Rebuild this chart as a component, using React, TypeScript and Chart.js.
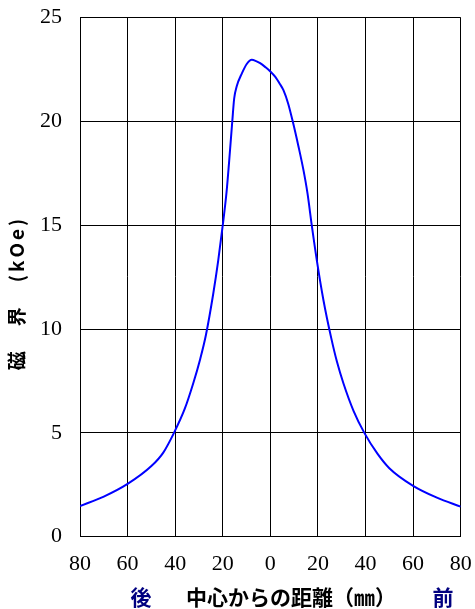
import React, { useEffect, useRef } from "react";
import { Chart, registerables } from "chart.js";

Chart.register(...registerables);

const positions = [-80, -70, -60, -50, -45, -40.5, -36, -32.4, -29.5, -27.1, -24, -21.9, -20, -18.4, -17.3, -16, -15.2, -14.1, -12, -10, -7.8, -6, -4.3, -2, 0, 2, 4, 5.5, 7.5, 9.4, 11.8, 13.9, 15.6, 17.4, 19.5, 22.3, 25.6, 28, 30.7, 35, 39.5, 45, 50, 60, 70, 80];
const field = [1.48, 1.93, 2.54, 3.4, 4.05, 5.0, 6.15, 7.39, 8.55, 9.7, 11.7, 13.3, 15.0, 16.6, 18.1, 20.0, 21.1, 21.7, 22.3, 22.75, 22.96, 22.9, 22.8, 22.6, 22.4, 22.15, 21.8, 21.5, 20.85, 20.0, 18.8, 17.66, 16.54, 15.0, 13.33, 11.4, 9.56, 8.42, 7.39, 6.05, 5.0, 4.0, 3.3, 2.45, 1.88, 1.45];

const xTicks = [-80, -60, -40, -20, 0, 20, 40, 60, 80];
const yTicks = [0, 5, 10, 15, 20, 25];

const yTitle = "磁　界　(kOe)";
const xTitleLeft = "後";
const xTitleMid = "中心からの距離（㎜）";
const xTitleRight = "前";

const titlesPlugin = {
  id: "titles",
  afterDraw(chart: any) {
    const ctx = chart.ctx;
    const h = chart.height;
    ctx.save();
    ctx.textBaseline = "middle";
    ctx.textAlign = "center";
    ctx.font = "bold 21px 'Noto Sans CJK JP'";
    const y = h - 12;
    ctx.fillStyle = "#000080";
    ctx.fillText(xTitleLeft, 141, y);
    ctx.fillText(xTitleRight, 443, y);
    ctx.fillStyle = "#000000";
    ctx.fillText(xTitleMid, 291, y);
    ctx.restore();

    ctx.save();
    ctx.translate(17, 293);
    ctx.rotate(-Math.PI / 2);
    ctx.textBaseline = "middle";
    ctx.textAlign = "center";
    ctx.fillStyle = "#000";
    ctx.font = "bold 19px 'Noto Sans CJK JP'";
    try {
      (ctx as any).letterSpacing = "3px";
    } catch (e) {}
    ctx.fillText(yTitle, 0, 0);
    ctx.restore();
  },
};

export default function App() {
  const ref = useRef<HTMLCanvasElement | null>(null);
  useEffect(() => {
    if (!ref.current) return;
    const chart = new Chart(ref.current, {
      type: "line",
      data: {
        datasets: [
          {
            data: positions.map((x, i) => ({ x, y: field[i] })),
            borderColor: "#0000ff",
            borderWidth: 2,
            pointRadius: 0,
            fill: false,
            cubicInterpolationMode: "monotone",
          },
        ],
      },
      plugins: [titlesPlugin],
      options: {
        animation: false,
        responsive: false,
        maintainAspectRatio: false,
        layout: { padding: { top: 17.5, right: 14.3, left: 0, bottom: 0 } },
        plugins: { legend: { display: false }, tooltip: { enabled: false } },
        scales: {
          x: {
            type: "linear",
            min: -80,
            max: 80,
            afterBuildTicks: (s: any) => {
              s.ticks = xTicks.map((v) => ({ value: v }));
            },
            afterFit: (s: any) => {
              s.height = 72.3;
              s.paddingLeft = 0;
              s.paddingRight = 0;
            },
            ticks: {
              callback: (v: any) => String(Math.abs(Number(v))),
              color: "#000",
              font: { family: "'Liberation Serif'", size: 22 },
              padding: 14,
              maxRotation: 0,
            },
            grid: { color: "#000", lineWidth: 1, drawTicks: false },
            border: { color: "#000", width: 1 },
          },
          y: {
            min: 0,
            max: 25,
            afterBuildTicks: (s: any) => {
              s.ticks = yTicks.map((v) => ({ value: v }));
            },
            afterFit: (s: any) => {
              s.width = 80;
              s.paddingTop = 0;
              s.paddingBottom = 0;
            },
            ticks: {
              color: "#000",
              font: { family: "'Liberation Serif'", size: 22 },
              padding: 18,
            },
            grid: { color: "#000", lineWidth: 1, drawTicks: false },
            border: { color: "#000", width: 1 },
          },
        },
      },
    });
    return () => chart.destroy();
  }, []);
  return (
    <div style={{ position: "fixed", left: 0, top: 0, width: 475, height: 609, background: "#fff" }}>
      <canvas ref={ref} width={475} height={609} style={{ width: 475, height: 609 }} />
    </div>
  );
}
